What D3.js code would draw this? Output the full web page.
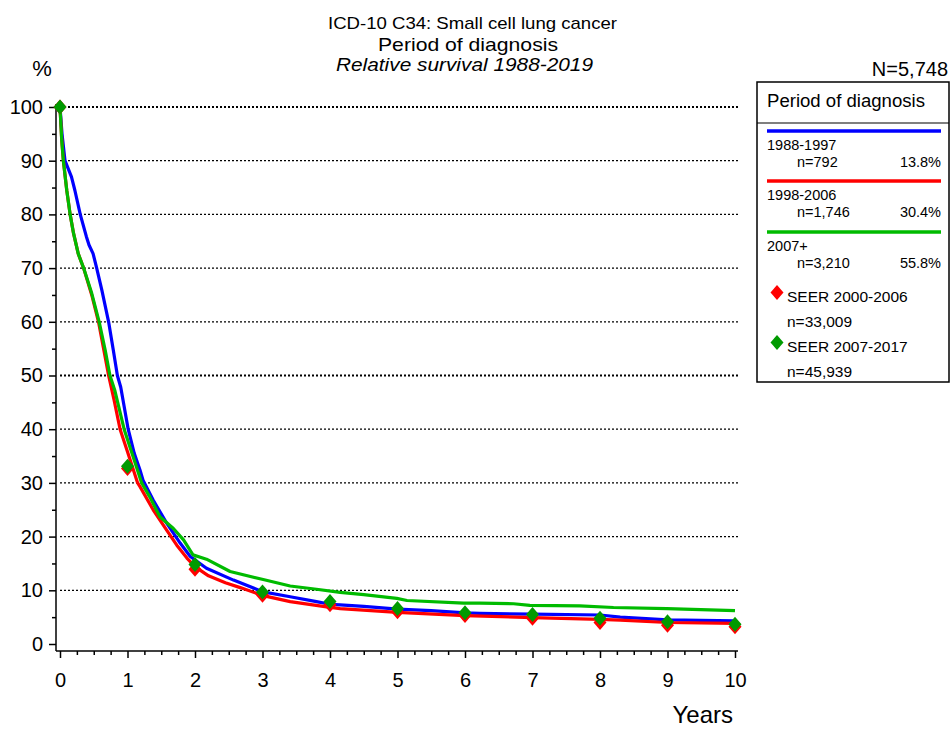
<!DOCTYPE html>
<html>
<head>
<meta charset="utf-8">
<script src="https://cdn.jsdelivr.net/npm/d3@7"></script>
<style>
  html, body { margin: 0; padding: 0; background: #fff; }
  svg { display: block; font-family: "Liberation Sans", Arial, sans-serif; }
</style>
</head>
<body>
<svg id="chart" width="951" height="729"></svg>
<script>
// ---------- data ----------
const titleLines = ["ICD-10 C34: Small cell lung cancer", "Period of diagnosis", "Relative survival 1988-2019"];
const totalN = "N=5,748";
const yTicks = [0, 10, 20, 30, 40, 50, 60, 70, 80, 90, 100];
const xTicks = [0, 1, 2, 3, 4, 5, 6, 7, 8, 9, 10];

const seriesNames = ["1988-1997", "1998-2006", "2007+"];
const seriesN = ["n=792", "n=1,746", "n=3,210"];
const seriesPct = ["13.8%", "30.4%", "55.8%"];

const blueYears = [0, 0.03, 0.074, 0.17, 0.22, 0.3, 0.39, 0.43, 0.49, 0.54, 0.62, 0.72, 0.79, 0.85, 0.9, 1.01, 1.1, 1.185, 1.23, 1.38, 1.58, 1.78, 1.93, 2.17, 2.57, 3.01, 3.41, 3.8, 4.0, 4.15, 4.5, 5.0, 5.5, 6.0, 6.22, 7.0, 8.0, 8.3, 9.0, 10];
const blueSurv  = [100, 95, 90, 87, 84.5, 80, 75.9, 74.3, 72.7, 70.2, 65.9, 60, 54.7, 50, 47.8, 40, 35.5, 32.4, 30.5, 26.8, 22.5, 18.8, 16.3, 14.1, 11.9, 9.7, 8.8, 7.9, 7.4, 7.3, 7.0, 6.5, 6.2, 5.8, 5.7, 5.55, 5.4, 5.0, 4.5, 4.3];

const redYears = [0, 0.025, 0.05, 0.1, 0.15, 0.2, 0.27, 0.35, 0.47, 0.57, 0.65, 0.72, 0.8, 0.89, 1.0, 1.15, 1.185, 1.38, 1.58, 1.73, 1.88, 2.0, 2.2, 2.45, 2.67, 3.01, 3.41, 3.95, 4.15, 5.0, 6.0, 7.0, 8.0, 8.3, 9.0, 10];
const redSurv  = [100, 94, 90, 84.5, 80, 76.5, 72.7, 70, 65, 60, 54.7, 50, 45.5, 40, 35.8, 30, 29.3, 25.0, 21.2, 18.4, 16.0, 14.4, 12.7, 11.4, 10.5, 9.0, 7.9, 6.9, 6.6, 5.9, 5.3, 4.9, 4.6, 4.45, 4.0, 3.85];

const greenYears = [0, 0.025, 0.05, 0.1, 0.15, 0.2, 0.27, 0.35, 0.47, 0.58, 0.67, 0.74, 0.81, 0.95, 1.08, 1.21, 1.33, 1.48, 1.68, 1.83, 1.97, 2.17, 2.52, 3.01, 3.41, 3.8, 4.15, 4.5, 4.99, 5.14, 5.98, 6.22, 6.72, 6.96, 7.7, 8.2, 8.99, 10];
const greenSurv  = [100, 93.9, 90, 84.5, 80, 76.5, 72.7, 70, 65.3, 60, 54.7, 50, 47.3, 40, 35, 30, 27.4, 23.7, 21.5, 19.4, 16.6, 15.8, 13.5, 12.0, 10.8, 10.2, 9.6, 9.2, 8.5, 8.1, 7.6, 7.6, 7.5, 7.2, 7.1, 6.8, 6.6, 6.2];

const seerYears = [0, 1, 2, 3, 4, 5, 6, 7, 8, 9, 10];
const seer2000 = [100, 32.7, 13.9, 9.1, 7.3, 6.0, 5.3, 4.8, 4.0, 3.5, 3.2];
const seer2007 = [100, 33.1, 14.8, 9.7, 7.9, 6.6, 5.8, 5.5, 4.8, 4.15, 3.7];
const seerNames = ["SEER 2000-2006", "SEER 2007-2017"];
const seerN = ["n=33,009", "n=45,939"];

// ---------- styles ----------
const BLUE = "#0000ff", RED = "#ff0000", GREEN = "#00bb00", DGREEN = "#009a00";
const lineColors = [BLUE, RED, GREEN];
const seerColors = [RED, DGREEN];

const svg = d3.select("#chart");
const x = d3.scaleLinear().domain([0, 10]).range([60, 735]);
const y = d3.scaleLinear().domain([0, 100]).range([644, 107]);

// ---------- titles ----------
const titleSpecs = [
  {size: 17, cx: 472.5, base: 29, len: 289, style: "normal"},
  {size: 18.6, cx: 468, base: 51, len: 180, style: "normal"},
  {size: 18.6, cx: 464.5, base: 71, len: 257, style: "italic"}
];
titleLines.forEach((t, i) => {
  const s = titleSpecs[i];
  svg.append("text").attr("x", s.cx - s.len / 2).attr("y", s.base)
    .attr("font-size", s.size).attr("font-style", s.style)
    .attr("textLength", s.len).attr("lengthAdjust", "spacingAndGlyphs")
    .text(t);
});
svg.append("text").attr("x", 42).attr("y", 76).attr("text-anchor", "middle")
  .attr("font-size", 22).text("%");
svg.append("text").attr("x", 948).attr("y", 76).attr("text-anchor", "end")
  .attr("font-size", 20).text(totalN);

// ---------- grid ----------
svg.append("g").selectAll("line").data(yTicks.filter(d => d > 0)).join("line")
  .attr("x1", 60).attr("x2", 738)
  .attr("y1", d => y(d)).attr("y2", d => y(d))
  .attr("stroke", "#000")
  .attr("stroke-width", d => (d === 50 || d === 100) ? 2 : 1.3)
  .attr("stroke-dasharray", "2,2");

// ---------- axes ----------
const yAxis = svg.append("g").attr("transform", "translate(56,0)")
  .call(d3.axisLeft(y).tickValues(yTicks).tickSize(7).tickPadding(6).tickFormat(d3.format("d")));
yAxis.select(".domain").remove();
const yMinor = svg.append("g").attr("transform", "translate(56,0)")
  .call(d3.axisLeft(y).tickValues(d3.range(5, 100, 10)).tickSize(4).tickFormat(""));
yMinor.select(".domain").remove();
svg.append("line").attr("x1", 56).attr("x2", 56).attr("y1", y(100) - 3).attr("y2", 651)
  .attr("stroke", "#000").attr("stroke-width", 1.5);

const xAxis = svg.append("g").attr("transform", "translate(0,651)")
  .call(d3.axisBottom(x).tickValues(xTicks).tickSize(7).tickPadding(15).tickFormat(d3.format("d")));
xAxis.select(".domain").remove();
const xMinor = svg.append("g").attr("transform", "translate(0,651)")
  .call(d3.axisBottom(x).tickValues(d3.range(0.25, 10, 0.25).filter(v => Math.abs(v - Math.round(v)) > 1e-6)).tickSize(4).tickFormat(""));
xMinor.select(".domain").remove();
svg.append("line").attr("x1", 56).attr("x2", 738).attr("y1", 651).attr("y2", 651)
  .attr("stroke", "#000").attr("stroke-width", 1.5);

svg.selectAll(".tick line").attr("stroke", "#000").attr("stroke-width", 1.5);
svg.selectAll(".tick text").attr("font-size", 20).attr("fill", "#000")
  .attr("font-family", "'Liberation Sans', Arial, sans-serif");

svg.append("text").attr("x", 733).attr("y", 723).attr("text-anchor", "end")
  .attr("font-size", 24).text("Years");

// ---------- curves ----------
const line = d3.line().x(d => x(d[0])).y(d => y(d[1]));
const seriesData = [
  d3.zip(blueYears, blueSurv),
  d3.zip(redYears, redSurv),
  d3.zip(greenYears, greenSurv)
];
seriesData.forEach((pts, i) => {
  svg.append("path").datum(pts).attr("d", line)
    .attr("fill", "none").attr("stroke", lineColors[i])
    .attr("stroke-width", 3.2).attr("stroke-linejoin", "round");
});

// ---------- SEER diamonds ----------
function diamond(cx, cy, w, h) {
  return `M${cx},${cy - h / 2}L${cx + w / 2},${cy}L${cx},${cy + h / 2}L${cx - w / 2},${cy}Z`;
}
[seer2000, seer2007].forEach((vals, k) => {
  svg.append("g").selectAll("path").data(d3.zip(seerYears, vals)).join("path")
    .attr("d", d => diamond(x(d[0]), y(d[1]), 13, 15))
    .attr("fill", seerColors[k]);
});

// ---------- legend ----------
const lg = svg.append("g");
lg.append("rect").attr("x", 757).attr("y", 82).attr("width", 192).attr("height", 300)
  .attr("fill", "#fff").attr("stroke", "#000").attr("stroke-width", 1.5);
lg.append("line").attr("x1", 757).attr("x2", 949).attr("y1", 123).attr("y2", 123)
  .attr("stroke", "#000").attr("stroke-width", 1.2);
lg.append("text").attr("x", 767).attr("y", 107).attr("font-size", 17.5)
  .attr("textLength", 158).attr("lengthAdjust", "spacingAndGlyphs").text("Period of diagnosis");

const legLineY = [131, 181, 232];
seriesNames.forEach((name, i) => {
  const ly = legLineY[i];
  lg.append("line").attr("x1", 767).attr("x2", 941).attr("y1", ly).attr("y2", ly)
    .attr("stroke", lineColors[i]).attr("stroke-width", 3.5);
  lg.append("text").attr("x", 767).attr("y", ly + 18.5).attr("font-size", 14.5).text(name);
  lg.append("text").attr("x", 797).attr("y", ly + 35.5).attr("font-size", 14.5).text(seriesN[i]);
  lg.append("text").attr("x", 941).attr("y", ly + 35.5).attr("font-size", 14.5)
    .attr("text-anchor", "end").text(seriesPct[i]);
});
const seerLegY = [292.5, 342.5];
seerNames.forEach((name, k) => {
  const cy = seerLegY[k];
  lg.append("path").attr("d", diamond(777, cy, 13, 15)).attr("fill", seerColors[k]);
  lg.append("text").attr("x", 787).attr("y", cy + 9.5).attr("font-size", 15.5).text(name);
  lg.append("text").attr("x", 787).attr("y", cy + 34.5).attr("font-size", 15.5).text(seerN[k]);
});
</script>
</body>
</html>
